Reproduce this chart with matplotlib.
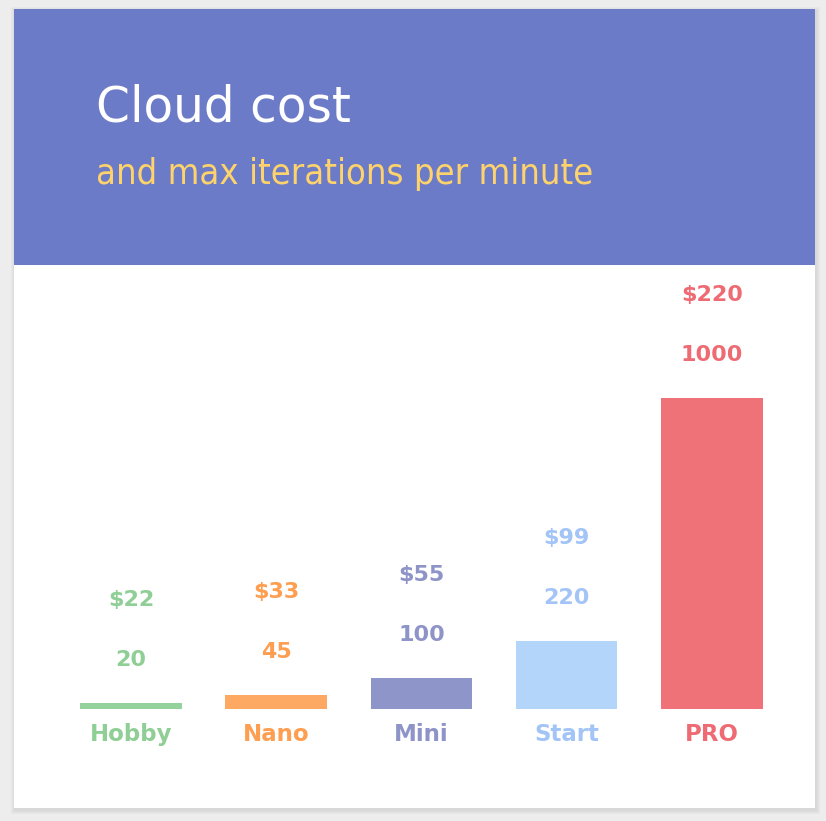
import matplotlib.pyplot as plt
from matplotlib.patches import Rectangle

plans = ["Hobby", "Nano", "Mini", "Start", "PRO"]
iterations = [20, 45, 100, 220, 1000]
prices = ["$22", "$33", "$55", "$99", "$220"]
bar_colors = ["#93D29B", "#FDA963", "#8E95C9", "#B3D5F9", "#EF7279"]
text_colors = ["#8FCF96", "#FD9E50", "#8E93C8", "#A3C4F6", "#EE6B74"]

W, H = 826, 821
fig = plt.figure(figsize=(W / 100, H / 100), dpi=100)
fig.patch.set_facecolor("#EDEDED")


def px_rect(x0, y0, x1, y1, **kw):
    # rectangle given in pixel coordinates from the top-left corner
    return Rectangle((x0 / W, 1 - y1 / H), (x1 - x0) / W, (y1 - y0) / H,
                     transform=fig.transFigure, zorder=-5, **kw)


# soft card shadow
for i, a in enumerate([0.05, 0.05, 0.05, 0.06]):
    d = 4 - i
    fig.patches.append(px_rect(14 - d + 1, 9 - d + 2, 815 + d + 1, 808 + d + 2,
                               facecolor="#888888", alpha=a, edgecolor="none"))
fig.patches.append(px_rect(14, 9, 815, 808, facecolor="white", edgecolor="none"))
fig.patches.append(px_rect(14, 9, 815, 265, facecolor="#6C7BC8", edgecolor="none"))

fig.text(96 / W, 1 - 107 / H, "Cloud cost", color="white", fontsize=35,
         family="DejaVu Sans", va="center", ha="left")
fig.text(96 / W, 1 - 174 / H, "and max iterations per minute", color="#FFD36B",
         fontsize=26, family="DejaVu Sans", stretch="condensed",
         va="center", ha="left")

# plot area: baseline at y=709px, bars 145px apart
left = (131 - 72.6) / W
ax = fig.add_axes([left, (H - 709) / H, 726 / W, 444 / H])
ax.set_xlim(-0.5, 4.5)
ax.set_ylim(0, 1000 * 444 / 311)
ax.axis("off")
ax.patch.set_alpha(0)

x = list(range(len(plans)))
ax.bar(x, iterations, width=0.7, color=bar_colors, linewidth=0)

for xi, name, val, price, tc in zip(x, plans, iterations, prices, text_colors):
    ax.annotate(name, (xi, 0), xytext=(0, -18), textcoords="offset points",
                ha="center", va="center", color=tc, fontsize=16.5,
                fontweight="bold", family="DejaVu Sans")
    ax.annotate(str(val), (xi, val), xytext=(0, 31), textcoords="offset points",
                ha="center", va="center", color=tc, fontsize=16,
                fontweight="bold", family="DejaVu Sans")
    ax.annotate(price, (xi, val), xytext=(0, 74), textcoords="offset points",
                ha="center", va="center", color=tc, fontsize=16,
                fontweight="bold", family="DejaVu Sans")

fig.savefig("out.png", dpi=100)
